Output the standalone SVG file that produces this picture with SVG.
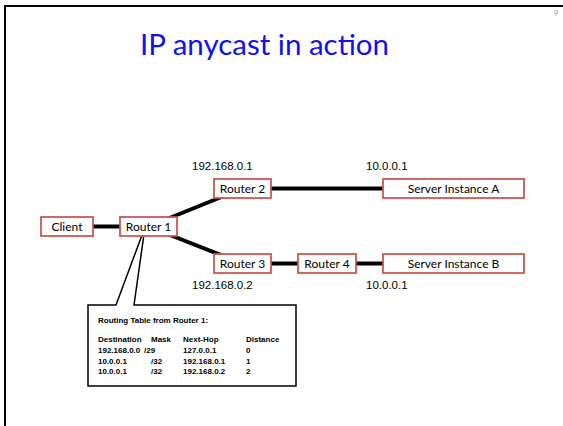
<svg xmlns="http://www.w3.org/2000/svg" width="563" height="426" viewBox="0 0 563 426">
<style>
.frame{fill:none;stroke:#000;stroke-width:2}
.node rect{fill:#fff;stroke:#c9534e;stroke-width:1.75}
.node text{font-family:Lato,"Liberation Sans",sans-serif;font-size:12px;fill:#000;text-anchor:middle}
.ip{font-family:"Liberation Sans",Lato,sans-serif;font-size:11.5px;fill:#000}
.link{stroke:#000;stroke-width:4;fill:none}
.callout{fill:#fff;stroke:#000;stroke-width:1.5;stroke-linejoin:miter}
.tbl{font-family:"Liberation Sans",Lato,sans-serif;font-size:8px;font-weight:bold;fill:#000}
</style>
<rect width="563" height="426" fill="#fff"/>
<path class="frame" d="M5,426 V6 H563"/>
<text x="556" y="16" font-family="Lato, 'Liberation Sans', sans-serif" font-size="8" fill="#999" text-anchor="middle">9</text>
<text x="264.5" y="55" font-family="Lato, 'Liberation Sans', sans-serif" font-size="29.5" fill="#1010f0" text-anchor="middle">IP anycast in action</text>

<g id="connectors">
<line class="link" x1="93" y1="226.5" x2="120" y2="226.5"/>
<line class="link" x1="148.5" y1="226.5" x2="242.5" y2="188.5"/>
<line class="link" x1="148.5" y1="226.5" x2="242.5" y2="263.5"/>
<line class="link" x1="271" y1="188.5" x2="383" y2="188.5"/>
<line class="link" x1="271" y1="263.5" x2="298" y2="263.5"/>
<line class="link" x1="356" y1="263.5" x2="383" y2="263.5"/>
</g>

<g id="routing-table">
<path class="callout" d="M88,305 H116 L145,227 L134,305 H296 V386 H88 Z"/>
<text class="tbl" x="98" y="323">Routing Table from Router 1:</text>
<text class="tbl" x="98" y="342">Destination</text>
<text class="tbl" x="151" y="342">Mask</text>
<text class="tbl" x="183" y="342">Next-Hop</text>
<text class="tbl" x="246" y="342">Distance</text>
<text class="tbl" x="98" y="352.5">192.168.0.0</text>
<text class="tbl" x="144" y="352.5">/29</text>
<text class="tbl" x="183" y="352.5">127.0.0.1</text>
<text class="tbl" x="246" y="352.5">0</text>
<text class="tbl" x="98" y="364">10.0.0.1</text>
<text class="tbl" x="151" y="364">/32</text>
<text class="tbl" x="183" y="364">192.168.0.1</text>
<text class="tbl" x="246" y="364">1</text>
<text class="tbl" x="98" y="373.5">10.0.0.1</text>
<text class="tbl" x="151" y="373.5">/32</text>
<text class="tbl" x="183" y="373.5">192.168.0.2</text>
<text class="tbl" x="246" y="373.5">2</text>
</g>

<g id="client" class="node"><rect x="41" y="217" width="52" height="19"/><text x="67" y="231">Client</text></g>
<g id="router1" class="node"><rect x="120" y="217" width="57" height="19"/><text x="148.5" y="231">Router 1</text></g>
<g id="router2" class="node"><rect x="214" y="179" width="57" height="19"/><text x="242.5" y="193">Router 2</text></g>
<g id="router3" class="node"><rect x="214" y="254" width="57" height="19"/><text x="242.5" y="268">Router 3</text></g>
<g id="router4" class="node"><rect x="298" y="254" width="58" height="19"/><text x="327" y="268">Router 4</text></g>
<g id="serverA" class="node"><rect x="383" y="179" width="141" height="19"/><text x="453.5" y="193">Server Instance A</text></g>
<g id="serverB" class="node"><rect x="383" y="254" width="141" height="19"/><text x="453.5" y="268">Server Instance B</text></g>

<g id="labels">
<text class="ip" x="192" y="170">192.168.0.1</text>
<text class="ip" x="366" y="170">10.0.0.1</text>
<text class="ip" x="192" y="289">192.168.0.2</text>
<text class="ip" x="366" y="289">10.0.0.1</text>
</g>
</svg>
